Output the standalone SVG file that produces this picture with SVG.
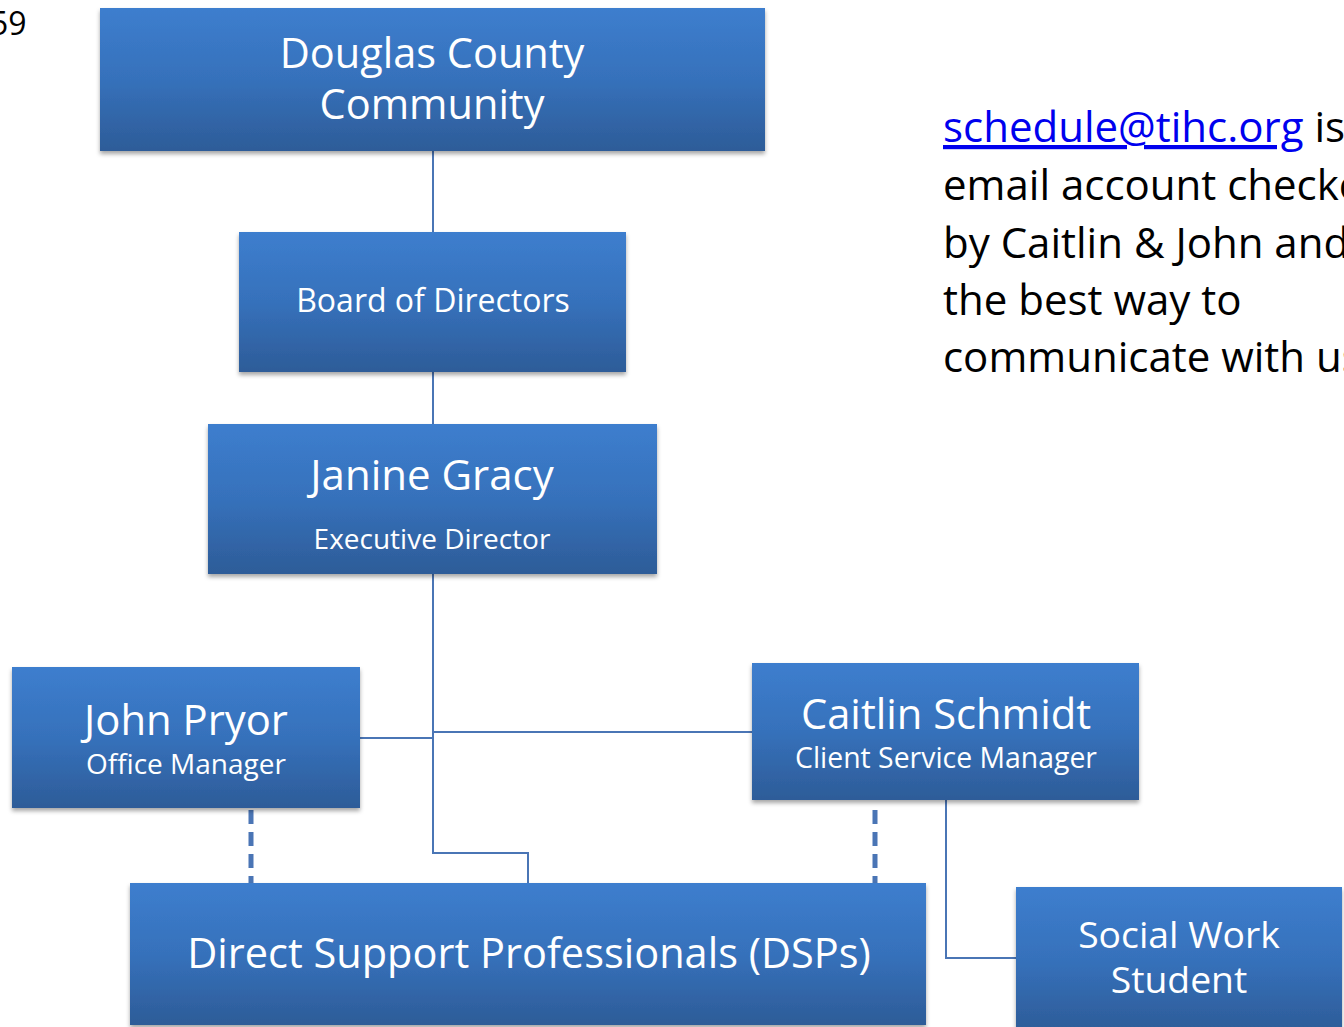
<svg xmlns="http://www.w3.org/2000/svg" width="1344" height="1027" viewBox="0 0 1344 1027">
<style>
.box{fill:url(#g);filter:url(#sh)}
.t{fill:#fff;font-family:"Open Sans","Noto Sans",sans-serif;text-anchor:middle}
.c{fill:none;stroke:#4a75b5;stroke-width:2}
.d{fill:none;stroke:#4a75b5;stroke-width:5;stroke-dasharray:14 8}
.n{font-family:"Open Sans","Noto Sans",sans-serif;font-size:42px;fill:#000}
</style>
<defs>
<linearGradient id="g" x1="0" y1="0" x2="0" y2="1">
<stop offset="0" stop-color="#3d7ece"/>
<stop offset="0.5" stop-color="#3671bb"/>
<stop offset="1" stop-color="#2d5c98"/>
</linearGradient>
<filter id="sh" x="-5%" y="-5%" width="110%" height="115%">
<feDropShadow dx="0" dy="3" stdDeviation="2" flood-color="#000" flood-opacity="0.35"/>
</filter>
</defs>
<rect width="1344" height="1027" fill="#fff"/>
<text x="-10" y="35" class="n" style="font-size:32px">59</text>
<g id="connectors">
<path class="c" d="M433 151V232M433 372V424M433 574V853H528V883M360 738H433M433 732H752M946 800V958H1016"/>
<path class="d" d="M251 810V898M875 810V884"/>
</g>
<g id="douglas">
<rect class="box" x="100" y="8" width="665" height="143"/>
<text class="t" x="432" y="68" font-size="41.5">Douglas County</text>
<text class="t" x="432" y="119" font-size="41.5">Community</text>
</g>
<g id="board">
<rect class="box" x="239" y="232" width="387" height="140"/>
<text class="t" x="433" y="312" font-size="32">Board of Directors</text>
</g>
<g id="janine">
<rect class="box" x="208" y="424" width="449" height="150"/>
<text class="t" x="432" y="490" font-size="42">Janine Gracy</text>
<text class="t" x="432" y="549" font-size="28">Executive Director</text>
</g>
<g id="john">
<rect class="box" x="12" y="667" width="348" height="141"/>
<text class="t" x="186" y="735" font-size="41.8">John Pryor</text>
<text class="t" x="186" y="774" font-size="28">Office Manager</text>
</g>
<g id="caitlin">
<rect class="box" x="752" y="663" width="387" height="137"/>
<text class="t" x="946" y="729" font-size="41.7">Caitlin Schmidt</text>
<text class="t" x="946" y="768" font-size="28.4">Client Service Manager</text>
</g>
<g id="dsp">
<rect class="box" x="130" y="883" width="796" height="142"/>
<text class="t" x="529" y="968" font-size="41.5">Direct Support Professionals (DSPs)</text>
</g>
<g id="student">
<rect class="box" x="1016" y="887" width="326" height="145"/>
<text class="t" x="1179" y="948" font-size="37.3">Social Work</text>
<text class="t" x="1179" y="993" font-size="37.3">Student</text>
</g>
<g id="note">
<text class="n" x="943" y="142"><tspan fill="#0000ee" text-decoration="underline">schedule@tihc.org</tspan> is the</text>
<text class="n" x="943" y="200">email account checked</text>
<text class="n" x="943" y="258">by Caitlin &amp; John and</text>
<text class="n" x="943" y="315">the best way to</text>
<text class="n" x="943" y="372">communicate with us.</text>
</g>
</svg>
